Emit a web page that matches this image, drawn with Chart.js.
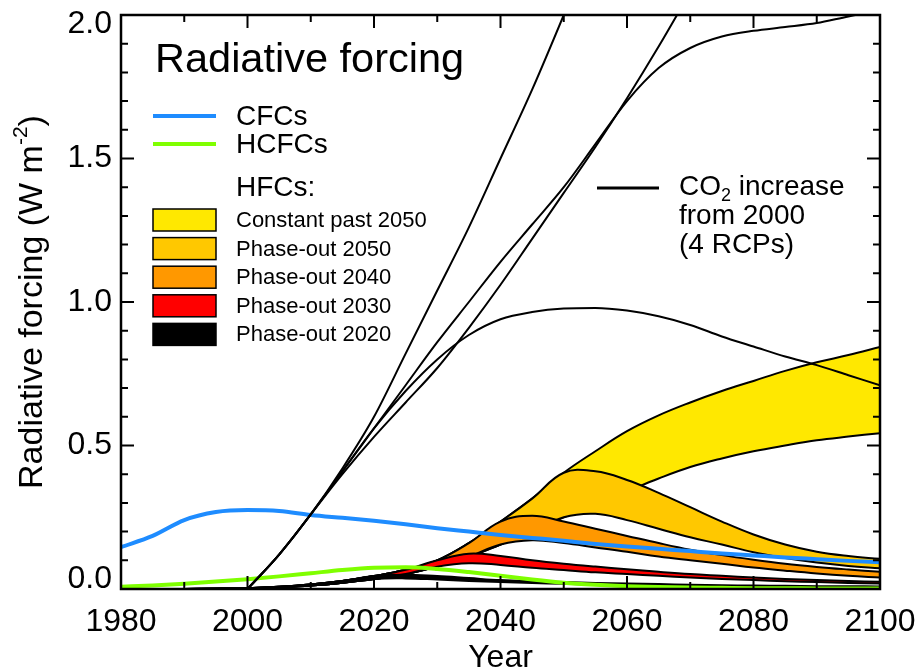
<!DOCTYPE html>
<html>
<head>
<meta charset="utf-8">
<script src="https://cdn.jsdelivr.net/npm/chart.js@4.4.1/dist/chart.umd.min.js"></script>
<style>
  html, body { margin: 0; padding: 0; background: #fff; }
</style>
</head>
<body>
<canvas id="chart" width="920" height="668"></canvas>
<script>
const FONT = "'Liberation Sans', Arial, sans-serif";

// 5-year grid, 1980..2100
const years = [1980, 1985, 1990, 1995, 2000, 2005, 2010, 2015, 2020, 2025, 2030, 2035, 2040,
  2045, 2050, 2055, 2060, 2065, 2070, 2075, 2080, 2085, 2090, 2095, 2100];

const cfcs = [0.146, 0.185, 0.240, 0.268, 0.275, 0.272, 0.258, 0.248, 0.238, 0.226, 0.212, 0.200, 0.188,
  0.178, 0.168, 0.157, 0.148, 0.140, 0.132, 0.124, 0.117, 0.110, 0.104, 0.098, 0.093];
const hcfcs = [0.008, 0.012, 0.018, 0.026, 0.034, 0.044, 0.055, 0.066, 0.074, 0.076, 0.070, 0.059, 0.046,
  0.033, 0.022, 0.015, 0.010, 0.007, 0.005, 0.004, 0.003, 0.003, 0.002, 0.002, 0.002];

// CO2 increase from 2000, 4 RCPs (values above 2.0 get clipped by the plot area)
const rcp26 = [null, null, null, null, 0, 0.12, 0.26, 0.41, 0.56, 0.69, 0.80, 0.885, 0.940,
  0.965, 0.977, 0.979, 0.970, 0.950, 0.920, 0.880, 0.845, 0.810, 0.780, 0.745, 0.710];
const rcp45 = [null, null, null, null, 0, 0.12, 0.26, 0.41, 0.56, 0.71, 0.86, 1.00, 1.14,
  1.27, 1.40, 1.55, 1.70, 1.815, 1.885, 1.925, 1.945, 1.958, 1.972, 1.995, 2.015];
const rcp60 = [null, null, null, null, 0, 0.12, 0.26, 0.40, 0.53, 0.65, 0.77, 0.91, 1.06,
  1.22, 1.38, 1.54, 1.71, 1.89, 2.08, null, null, null, null, null, null];
const rcp85 = [null, null, null, null, 0, 0.12, 0.26, 0.42, 0.60, 0.82, 1.04, 1.26, 1.50,
  1.74, 2.00, 2.27, null, null, null, null, null, null, null, null, null];

// HFC scenarios, upper and lower bound of each range
const constHigh = [null, null, 0, 0.001, 0.003, 0.008, 0.016, 0.028, 0.045, 0.067, 0.100, 0.160, 0.235,
  0.315, 0.405, 0.480, 0.550, 0.605, 0.650, 0.690, 0.725, 0.760, 0.790, 0.815, 0.843];
const constLow = [null, null, 0, 0.001, 0.002, 0.006, 0.012, 0.022, 0.035, 0.052, 0.078, 0.112, 0.155,
  0.200, 0.250, 0.295, 0.340, 0.385, 0.425, 0.455, 0.480, 0.500, 0.518, 0.531, 0.543];
const po2050High = [null, null, 0, 0.001, 0.003, 0.008, 0.016, 0.028, 0.045, 0.067, 0.100, 0.160, 0.235,
  0.315, 0.405, 0.410, 0.380, 0.335, 0.285, 0.235, 0.190, 0.155, 0.130, 0.115, 0.105];
const po2050Low = [null, null, 0, 0.001, 0.002, 0.006, 0.012, 0.022, 0.035, 0.052, 0.078, 0.112, 0.155,
  0.200, 0.250, 0.262, 0.240, 0.210, 0.180, 0.155, 0.128, 0.108, 0.092, 0.080, 0.072];
const po2040High = [null, null, 0, 0.001, 0.003, 0.008, 0.016, 0.028, 0.045, 0.067, 0.100, 0.160, 0.235,
  0.255, 0.235, 0.210, 0.185, 0.160, 0.137, 0.118, 0.102, 0.088, 0.077, 0.068, 0.060];
const po2040Low = [null, null, 0, 0.001, 0.002, 0.006, 0.012, 0.022, 0.035, 0.052, 0.078, 0.112, 0.155,
  0.170, 0.160, 0.145, 0.130, 0.113, 0.100, 0.088, 0.075, 0.064, 0.054, 0.046, 0.040];
const po2030High = [null, null, 0, 0.001, 0.003, 0.008, 0.016, 0.028, 0.045, 0.067, 0.100, 0.123, 0.115,
  0.100, 0.088, 0.078, 0.069, 0.060, 0.052, 0.046, 0.040, 0.035, 0.031, 0.028, 0.025];
const po2030Low = [null, null, 0, 0.001, 0.002, 0.006, 0.012, 0.022, 0.035, 0.052, 0.078, 0.090, 0.084,
  0.074, 0.066, 0.058, 0.052, 0.046, 0.040, 0.035, 0.031, 0.027, 0.024, 0.021, 0.019];
const po2020High = [null, null, 0, 0.001, 0.003, 0.008, 0.016, 0.028, 0.045, 0.050, 0.045, 0.038, 0.031,
  0.027, 0.024, 0.021, 0.019, 0.017, 0.015, 0.013, 0.012, 0.011, 0.010, 0.010, 0.009];
const po2020Low = [null, null, 0, 0.001, 0.002, 0.006, 0.012, 0.022, 0.035, 0.037, 0.033, 0.028, 0.024,
  0.021, 0.018, 0.016, 0.014, 0.012, 0.011, 0.009, 0.008, 0.008, 0.007, 0.007, 0.006];

const yTickValues = [0, 0.5, 1.0, 1.5, 2.0];
const yTickLabels = ['0.0', '0.5', '1.0', '1.5', '2.0'];

const gasLabels = ['CFCs', 'HCFCs'];
const gasColors = ['#1E8CFF', '#7FFF00'];

// top to bottom in the legend
const hfcLabels = ['Constant past 2050', 'Phase-out 2050', 'Phase-out 2040', 'Phase-out 2030', 'Phase-out 2020'];
const hfcColors = ['#FFE800', '#FFC800', '#FF9800', '#FF0000', '#000000'];
const hfcHigh = [constHigh, po2050High, po2040High, po2030High, po2020High];
const hfcLow = [constLow, po2050Low, po2040Low, po2030Low, po2020Low];

const pts = (arr) => arr.map((v, i) => ({ x: years[i], y: v }));

const line = (arr, color, width) => ({
  data: pts(arr),
  borderColor: color,
  borderWidth: width,
  pointRadius: 0,
  fill: false,
  cubicInterpolationMode: 'monotone',
});

// band edges are smoother with plain tension (rounded peaks)
const edge = (arr, color, width) => ({
  ...line(arr, color, width),
  cubicInterpolationMode: 'default',
  tension: 0.4,
});

// first dataset ends up on top
let datasets = [];
[rcp85, rcp60, rcp45, rcp26].forEach((r) => datasets.push(line(r, '#000', 2)));
datasets.push(line(cfcs, gasColors[0], 4));
datasets.push(line(hcfcs, gasColors[1], 4));

// bands: phase-out 2020 on top, constant at the bottom
for (let k = hfcLabels.length - 1; k >= 0; k--) {
  datasets.push(edge(hfcHigh[k], '#000', 2));
  datasets.push(edge(hfcLow[k], '#000', 2));
  const lowIndex = datasets.length - 1;
  datasets.push({
    ...edge(hfcHigh[k], 'rgba(0,0,0,0)', 0),
    backgroundColor: hfcColors[k],
    fill: lowIndex,
  });
}

const decor = {
  id: 'decor',
  afterDatasetsDraw(chart) {
    const { ctx, chartArea: a, scales: { x, y } } = chart;
    ctx.save();
    ctx.strokeStyle = '#000';
    ctx.lineWidth = 2;
    ctx.beginPath();
    for (let yr = 1980; yr <= 2100; yr += 10) {
      const px = x.getPixelForValue(yr);
      const len = yr % 20 === 0 ? 13 : 7;
      ctx.moveTo(px, a.bottom);
      ctx.lineTo(px, a.bottom - len);
      ctx.moveTo(px, a.top);
      ctx.lineTo(px, a.top + len);
    }
    for (let i = 0; i <= 20; i++) {
      const py = y.getPixelForValue(i / 10);
      const len = i % 5 === 0 ? 13 : 7;
      ctx.moveTo(a.left, py);
      ctx.lineTo(a.left + len, py);
      ctx.moveTo(a.right, py);
      ctx.lineTo(a.right - len, py);
    }
    ctx.stroke();
    ctx.lineWidth = 2.5;
    ctx.strokeRect(a.left, a.top, a.right - a.left, a.bottom - a.top);

    // y tick labels, end labels kept inside the axis range
    ctx.fillStyle = '#000';
    ctx.font = `32px ${FONT}`;
    ctx.textAlign = 'right';
    ctx.textBaseline = 'middle';
    yTickValues.forEach((v, i) => {
      const py = Math.min(Math.max(y.getPixelForValue(v), a.top + 9), a.bottom - 10);
      ctx.fillText(yTickLabels[i], a.left - 9, py);
    });

    // y title with superscript
    ctx.save();
    ctx.translate(33, 302);
    ctx.rotate(-Math.PI / 2);
    ctx.textAlign = 'left';
    ctx.textBaseline = 'middle';
    const t1 = 'Radiative forcing (W m';
    const sup = '-2';
    const t2 = ')';
    ctx.font = `34px ${FONT}`;
    const w1 = ctx.measureText(t1).width;
    const w3 = ctx.measureText(t2).width;
    ctx.font = `21px ${FONT}`;
    const w2 = ctx.measureText(sup).width;
    let sx = -(w1 + w2 + w3) / 2;
    ctx.font = `34px ${FONT}`;
    ctx.fillText(t1, sx, 0);
    ctx.font = `21px ${FONT}`;
    ctx.fillText(sup, sx + w1, -12);
    ctx.font = `34px ${FONT}`;
    ctx.fillText(t2, sx + w1 + w2, 0);
    ctx.restore();

    // legend
    const lx = a.left + 32;
    ctx.textAlign = 'left';
    ctx.textBaseline = 'alphabetic';
    ctx.font = `41.5px ${FONT}`;
    ctx.fillText('Radiative forcing', a.left + 34, 72);

    ctx.textBaseline = 'middle';
    ctx.font = `28px ${FONT}`;
    [116, 144].forEach((ly, i) => {
      ctx.strokeStyle = gasColors[i];
      ctx.lineWidth = 4;
      ctx.beginPath();
      ctx.moveTo(lx, ly);
      ctx.lineTo(lx + 63, ly);
      ctx.stroke();
      ctx.fillText(gasLabels[i], lx + 83, ly + 1);
    });
    ctx.fillText('HFCs:', lx + 83, 188);

    ctx.font = `22px ${FONT}`;
    ctx.strokeStyle = '#000';
    ctx.lineWidth = 1.5;
    hfcLabels.forEach((lab, i) => {
      const by = 209 + i * 28.6;
      ctx.fillStyle = hfcColors[i];
      ctx.fillRect(lx, by, 63, 22);
      ctx.strokeRect(lx, by, 63, 22);
      ctx.fillStyle = '#000';
      ctx.fillText(lab, lx + 83, by + 12);
    });

    // CO2 entry
    ctx.lineWidth = 3;
    ctx.beginPath();
    ctx.moveTo(597, 188);
    ctx.lineTo(659, 188);
    ctx.stroke();
    ctx.font = `28px ${FONT}`;
    ctx.fillText('CO', 679, 187);
    let cx = 679 + ctx.measureText('CO').width;
    ctx.font = `18px ${FONT}`;
    ctx.fillText('2', cx, 196);
    cx += ctx.measureText('2').width;
    ctx.font = `28px ${FONT}`;
    ctx.fillText(' increase', cx, 187);
    ctx.fillText('from 2000', 679, 216);
    ctx.fillText('(4 RCPs)', 679, 245);
    ctx.restore();
  },
};

new Chart(document.getElementById('chart'), {
  type: 'line',
  data: { datasets },
  options: {
    responsive: false,
    animation: false,
    layout: { padding: { top: 15, right: 40, left: 0, bottom: 0 } },
    plugins: { legend: { display: false }, tooltip: { enabled: false } },
    scales: {
      x: {
        type: 'linear',
        min: 1980,
        max: 2100,
        grid: { display: false, drawTicks: false },
        border: { display: false },
        ticks: {
          stepSize: 20,
          padding: 14,
          maxRotation: 0,
          autoSkip: false,
          color: '#000',
          font: { family: FONT, size: 32 },
          callback: (v) => String(v),
        },
        title: {
          display: true,
          text: 'Year',
          color: '#000',
          font: { family: FONT, size: 32, lineHeight: 1 },
          padding: { top: 0, bottom: -6 },
        },
        afterFit: (s) => {
          s.height = 79;
          s.paddingLeft = 0;
          s.paddingRight = 0;
        },
      },
      y: {
        min: 0,
        max: 2,
        grid: { display: false, drawTicks: false },
        border: { display: false },
        ticks: { display: false, stepSize: 0.5 },
        afterFit: (s) => { s.width = 121; },
      },
    },
  },
  plugins: [decor],
});
</script>
</body>
</html>
